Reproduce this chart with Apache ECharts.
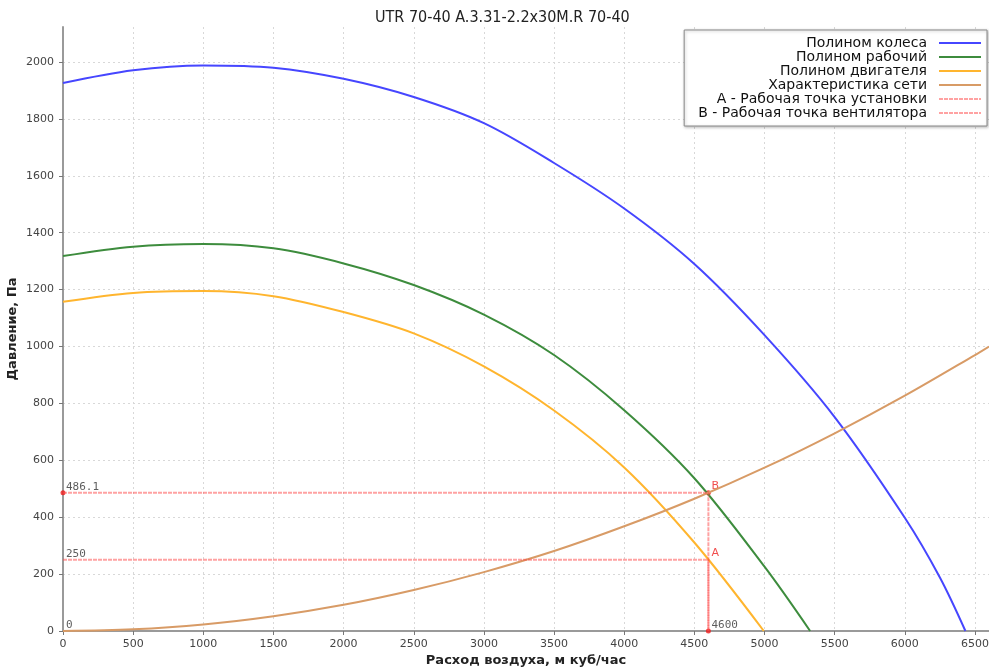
<!DOCTYPE html>
<html>
<head>
<meta charset="utf-8">
<script src="https://cdn.jsdelivr.net/npm/echarts@6/dist/echarts.min.js"></script>
<style>
html, body { margin: 0; padding: 0; background: #fff; }
#box1 { width: 989px; height: 670px; }
</style>
</head>
<body>
<div id="box1"></div>
<script>
var myChart = echarts.init(document.getElementById('box1'))

// values (flow m3/h, pressure Pa)
var wheelX = [0, 500, 1000, 1500, 2000, 2500, 3000, 3500, 4000, 4500, 5000, 5500, 6000, 6250, 6432]
var wheelY = [1926, 1971, 1988, 1980, 1941, 1877, 1785, 1645, 1485, 1290, 1040, 752, 398, 188, 0]
var workX = [0, 500, 1000, 1500, 2000, 2500, 3000, 3500, 4000, 4500, 5000, 5325]
var workY = [1318, 1351, 1360, 1345, 1292, 1216, 1112, 970, 776, 537, 226, 0]
var motorX = [0, 500, 1000, 1500, 2000, 2500, 3000, 3500, 4000, 4500, 4995]
var motorY = [1157, 1188, 1195, 1177, 1121, 1046, 930, 775, 575, 311, 0]
var netX = [0, 500, 1000, 1500, 2000, 2500, 3000, 3500, 4000, 4500, 5000, 5500, 6000, 6500, 6600]
var netY = [0, 6, 23, 52, 92, 144, 207, 281, 368, 465, 574, 695, 827, 970, 1000]
var pointA = [4600, 250]
var pointB = [4600, 486.1]

var names = [
    'Полином колеса',
    'Полином рабочий',
    'Полином двигателя',
    'Характеристика сети',
    'A - Рабочая точка установки',
    'B - Рабочая точка вентилятора'
]

function pairs(xs, ys) {
    return xs.map(function (x, i) { return [x, ys[i]]; });
}
function guide(p) {
    return [[0, p[1]], p, [p[0], 0]];
}
function gridColors(n) {
    var c = [];
    for (var i = 0; i < n; i++) c.push('#d8d8d8');
    c.push('rgba(0,0,0,0)');
    return c;
}
function plain(v) {
    return String(v);
}

var font = 'DejaVu Sans';
var curveSmooth = 0.33;

option = {
    animation: false,
    backgroundColor: '#fff',
    title: {
        text: 'UTR 70-40 A.3.31-2.2x30M.R 70-40',
        left: 370,
        top: 5,
        textStyle: { fontFamily: 'DejaVu Sans Condensed, DejaVu Sans', fontSize: 16, fontWeight: 'normal', color: '#222' }
    },
    legend: {
        data: names,
        orient: 'vertical',
        align: 'right',
        right: 2,
        top: 30,
        itemWidth: 42,
        itemHeight: 14,
        itemGap: 0,
        padding: [6, 5, 6, 14],
        backgroundColor: '#fff',
        borderColor: '#8a8a8a',
        borderWidth: 1,
        shadowColor: 'rgba(0,0,0,0.25)',
        shadowBlur: 3,
        shadowOffsetX: 1,
        shadowOffsetY: 1,
        itemStyle: { opacity: 0 },
        textStyle: { fontFamily: font, fontSize: 14, color: '#111', padding: [0, 7, 0, 0] }
    },
    grid: {
        left: 63,
        right: 0,
        top: 27,
        bottom: 39,
        outerBoundsMode: 'none'
    },
    xAxis: {
        type: 'value',
        min: 0,
        max: 6600,
        interval: 500,
        name: 'Расход воздуха, м куб/час',
        nameLocation: 'middle',
        nameGap: 23,
        nameMoveOverlap: false,
        nameTextStyle: { fontFamily: font, fontSize: 13, fontWeight: 'bold', color: '#222' },
        axisLine: { lineStyle: { color: '#9a9a9a', width: 2 } },
        axisTick: { length: 4, lineStyle: { color: '#777' } },
        axisLabel: { showMaxLabel: false, margin: 8, fontFamily: font, fontSize: 11, color: '#444', formatter: plain },
        splitLine: { show: true, lineStyle: { type: [2, 3], color: gridColors(14) } }
    },
    yAxis: {
        type: 'value',
        min: 0,
        max: 2123,
        interval: 200,
        name: 'Давление, Па',
        nameLocation: 'middle',
        nameGap: 44,
        nameMoveOverlap: false,
        nameTextStyle: { fontFamily: font, fontSize: 13, fontWeight: 'bold', color: '#222' },
        axisLine: { show: true, lineStyle: { color: '#9a9a9a', width: 2 } },
        axisTick: { show: true, length: 4, lineStyle: { color: '#777' } },
        axisLabel: { showMaxLabel: false, margin: 9, fontFamily: font, fontSize: 11, color: '#444', formatter: plain },
        splitLine: { show: true, lineStyle: { type: [2, 3], color: gridColors(11) } }
    },
    series: [
        {
            name: names[0], type: 'line', symbol: 'none', smooth: curveSmooth,
            lineStyle: { color: '#4646ff', width: 2 }, itemStyle: { color: '#4646ff' },
            data: pairs(wheelX, wheelY)
        },
        {
            name: names[1], type: 'line', symbol: 'none', smooth: curveSmooth,
            lineStyle: { color: '#3d8c3d', width: 2 }, itemStyle: { color: '#3d8c3d' },
            data: pairs(workX, workY)
        },
        {
            name: names[2], type: 'line', symbol: 'none', smooth: curveSmooth,
            lineStyle: { color: '#ffb52e', width: 2 }, itemStyle: { color: '#ffb52e' },
            data: pairs(motorX, motorY)
        },
        {
            name: names[3], type: 'line', symbol: 'none', smooth: curveSmooth,
            lineStyle: { color: '#d89b66', width: 2 }, itemStyle: { color: '#d89b66' },
            data: pairs(netX, netY)
        },
        {
            name: names[4], type: 'line', symbol: 'none',
            lineStyle: { color: 'rgba(255,70,70,0.5)', width: 2, type: [4, 1] }, itemStyle: { color: '#ffaaaa' },
            data: guide(pointA)
        },
        {
            name: names[5], type: 'line', symbol: 'none',
            lineStyle: { color: 'rgba(255,70,70,0.5)', width: 2, type: [4, 1] }, itemStyle: { color: '#ffaaaa' },
            data: guide(pointB)
        },
        {
            name: 'dots', type: 'scatter', symbolSize: 5, clip: false,
            itemStyle: { color: '#ee1c1c' },
            data: [[0, pointB[1]], pointB, [pointB[0], 0]]
        },
        {
            name: 'values', type: 'scatter', symbolSize: 0, clip: false,
            label: {
                show: true, position: 'right', distance: 3, offset: [0, -6],
                fontFamily: 'DejaVu Sans Mono', fontSize: 11, color: '#333',
                formatter: function (p) { return p.value[0] === 0 ? p.value[1] : p.value[0]; }
            },
            data: [[0, pointB[1]], [0, pointA[1]], [0, 0], [pointA[0], 0]]
        },
        {
            name: 'points', type: 'scatter', symbolSize: 0, clip: false,
            label: {
                show: true, position: 'right', distance: 3, offset: [0, -7],
                fontFamily: font, fontSize: 11, color: '#ee2222',
                formatter: function (p) { return p.dataIndex === 0 ? 'A' : 'B'; }
            },
            data: [pointA, pointB]
        }
    ]
};
myChart.setOption(option);
</script>
</body>
</html>
